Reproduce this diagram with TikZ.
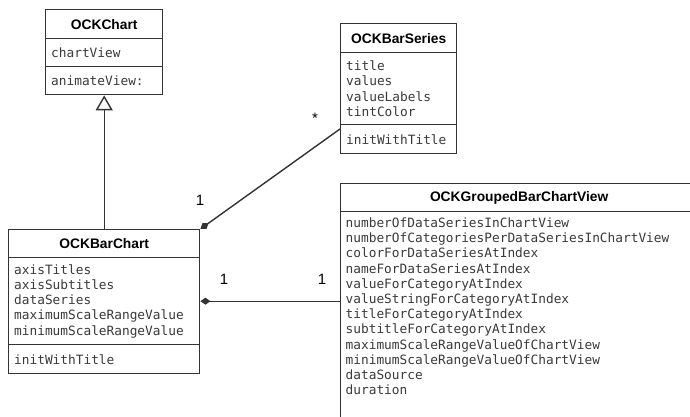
\documentclass[tikz,border=0pt]{standalone}
\usepackage{fontspec}
\setmainfont{Liberation Sans}
\newfontfamily\monofam{DejaVu Sans Mono}
\usetikzlibrary{arrows.meta}
\definecolor{linec}{HTML}{333333}
\definecolor{memc}{HTML}{3A3A3A}
\tikzset{
  cls/.style={draw=linec, line width=1.4pt, rectangle, inner sep=0pt, anchor=north west},
  ttl/.style={font=\bfseries\fontsize{13.8}{16}\selectfont, text=black},
  mem/.style={font=\monofam\fontsize{12.8}{15.2}\selectfont, text=memc, align=left, inner xsep=5.5pt},
  conn/.style={draw=linec, line width=1.4pt},
  mult/.style={font=\fontsize{15}{17}\selectfont, text=black, inner sep=0pt},
  inh/.style={conn, -{Triangle[width=17pt, length=15pt, fill=white, line width=1.4pt]}},
  comp/.style={conn, {Diamond[width=7pt, length=10pt]}-},
}
\begin{document}
\begin{tikzpicture}[x=1pt, y=-1pt]
\useasboundingbox (0,0) rectangle (690,417);
\clip (0,0) rectangle (690,417);
\fill[white] (0,0) rectangle (690,417);

% OCKChart
\node[cls, ttl, minimum width=117pt, minimum height=29pt] (chartT) at (45,9) {OCKChart};
\node[cls, mem, minimum width=117pt, minimum height=28pt, text width=106pt] (chartA) at (45,38) {chartView};
\node[cls, mem, minimum width=117pt, minimum height=28pt, text width=106pt] (chartM) at (45,66) {animateView:};

% OCKBarSeries
\node[cls, ttl, minimum width=116pt, minimum height=29pt] (serT) at (340,23) {OCKBarSeries};
\node[cls, mem, minimum width=116pt, minimum height=72pt, text width=105pt] (serA) at (340,52) {title\\values\\valueLabels\\tintColor};
\node[cls, mem, minimum width=116pt, minimum height=29pt, text width=105pt] (serM) at (340,124) {initWithTitle};

% OCKBarChart
\node[cls, ttl, minimum width=191pt, minimum height=28pt] (barT) at (8,229) {OCKBarChart};
\node[cls, mem, minimum width=191pt, minimum height=87pt, text width=180pt] (barA) at (8,257) {axisTitles\\axisSubtitles\\dataSeries\\maximumScaleRangeValue\\minimumScaleRangeValue};
\node[cls, mem, minimum width=191pt, minimum height=29pt, text width=180pt] (barM) at (8,344) {initWithTitle};

% OCKGroupedBarChartView
\node[cls, ttl, minimum width=357pt, minimum height=28pt] (grpT) at (340,183) {OCKGroupedBarChartView};
\node[cls, minimum width=357pt, minimum height=240pt] (grpA) at (340,211) {};
\node[mem, anchor=north west, inner sep=0pt] (grpText) at (345.5,217.5) {numberOfDataSeriesInChartView\\numberOfCategoriesPerDataSeriesInChartView\\colorForDataSeriesAtIndex\\nameForDataSeriesAtIndex\\valueForCategoryAtIndex\\valueStringForCategoryAtIndex\\titleForCategoryAtIndex\\subtitleForCategoryAtIndex\\maximumScaleRangeValueOfChartView\\minimumScaleRangeValueOfChartView\\dataSource\\duration};

% connectors
\draw[inh] (barT.north) -- (chartM.south);
\coordinate (serJoin) at (340,129);
\draw[comp] (barT.north east) -- (serJoin);
\draw[comp] (barA.east) -- (barA.east -| grpT.west);

% multiplicities
\node[mult] (m1) at (200,200) {1};
\node[mult] (m2) at (315,118) {*};
\node[mult] (m3) at (224,279) {1};
\node[mult] (m4) at (322,279) {1};
\end{tikzpicture}
\end{document}
